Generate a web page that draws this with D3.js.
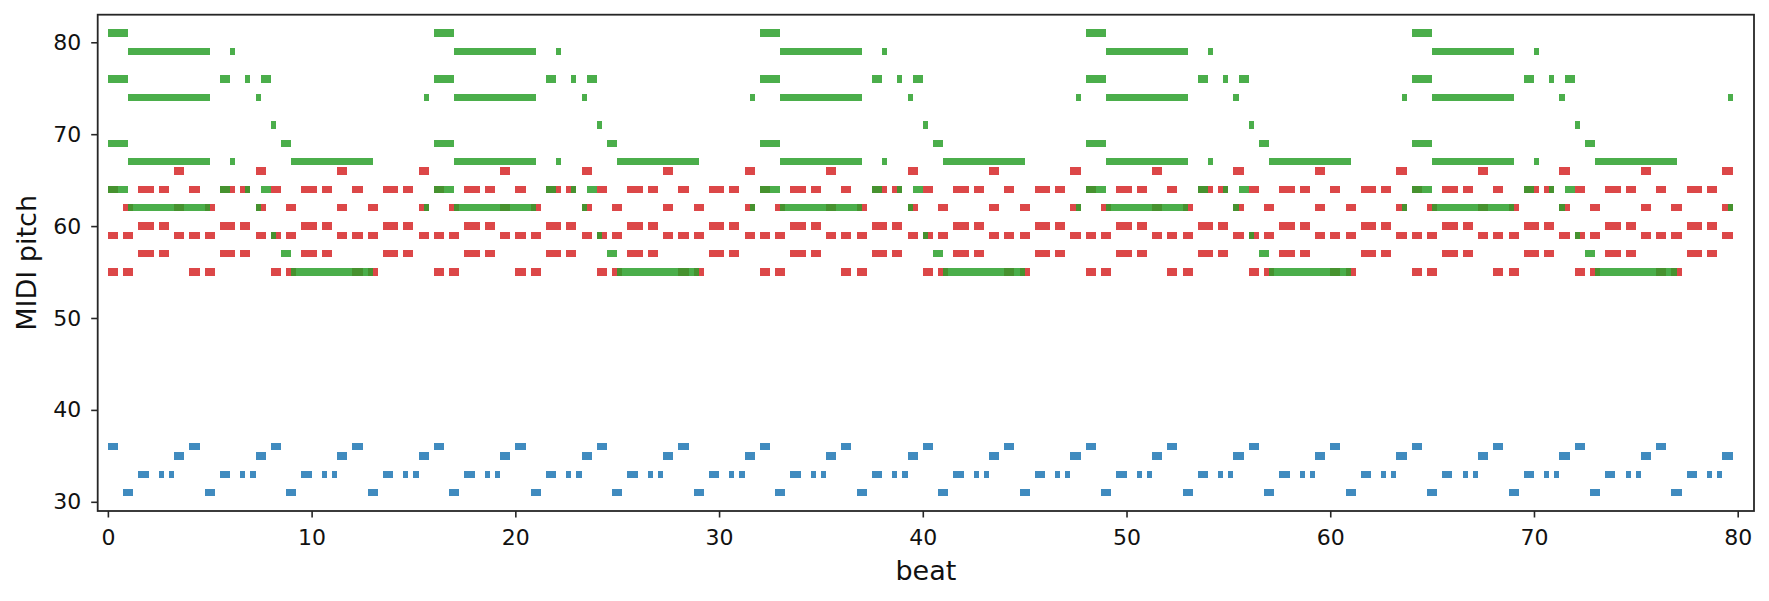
<!DOCTYPE html>
<html>
<head>
<meta charset="utf-8">
<script src="https://cdn.jsdelivr.net/npm/d3@7"></script>
<style>
  body { margin: 0; background: #fff; }
  svg { display: block; font-family: "DejaVu Sans", sans-serif; }
</style>
</head>
<body>
<svg width="1769" height="601"></svg>
<script>
// accompaniment (red): one 4-beat bar of chords, played in every bar
const accOnset = [0, 0.75, 1.5, 2.5, 3.25];
const accDur = [0.5, 0.5, 0.75, 0.5, 0.5];
const accChords = [[64, 59, 55], [62, 59, 55], [64, 60, 57], [64, 60, 57], [66, 62, 59]];

// bass (blue): one 4-beat bar
const bassOnset = [0, 0.75, 1.5, 2.5, 3, 3.25];
const bassDur = [0.5, 0.5, 0.5, 0.25, 0.25, 0.5];
const bassPitch = [36, 31, 33, 33, 33, 35];

// melody chords (green): one 16-beat phrase
const melOnset = [0, 1, 5.5, 6, 6.75, 7.25, 7.5, 8, 8.5, 9, 15.5];
const melDur = [1, 4, 0.5, 0.25, 0.25, 0.25, 0.5, 0.25, 0.5, 4, 0.25];
const melChords = [[81, 76, 69, 64], [79, 74, 67, 62], [76, 64], [79, 67], [76, 64],
  [74, 62], [76, 64], [71, 59], [69, 57], [67, 55], [74, 62]];

const barStarts = [0, 4, 8, 12, 16, 20, 24, 28, 32, 36, 40, 44, 48, 52, 56, 60, 64, 68, 72, 76];
const phraseStarts = [0, 16, 32, 48, 64];

const xTicks = [0, 10, 20, 30, 40, 50, 60, 70, 80];
const yTicks = [30, 40, 50, 60, 70, 80];

const svg = d3.select('svg');
const plotLeft = 97.7, plotRight = 1754, plotTop = 14.7, plotBottom = 511;

const x = d3.scaleLinear().domain([-0.5, 80.8]).range([plotLeft, plotRight]);
const y = d3.scaleLinear().domain([29, 83]).range([plotBottom, plotTop]);

const acc = [];
barStarts.forEach((b) => accOnset.forEach((o, i) => accChords[i].forEach((p) => {
  acc.push({ start: b + o, dur: accDur[i], pitch: p });
})));
const bass = [];
barStarts.forEach((b) => bassOnset.forEach((o, i) => {
  bass.push({ start: b + o, dur: bassDur[i], pitch: bassPitch[i] });
}));
const mel = [];
phraseStarts.forEach((s) => melOnset.forEach((o, i) => melChords[i].forEach((p) => {
  mel.push({ start: s + o, dur: melDur[i], pitch: p });
})));

function drawNotes(data, color) {
  svg.append('g')
    .selectAll('rect')
    .data(data)
    .join('rect')
    .attr('x', (d) => x(d.start))
    .attr('width', (d) => x(d.start + d.dur) - x(d.start))
    .attr('y', (d) => y(d.pitch + 0.4))
    .attr('height', (d) => y(d.pitch - 0.4) - y(d.pitch + 0.4))
    .attr('fill', color)
    .attr('fill-opacity', 0.85)
    .attr('shape-rendering', 'crispEdges');
}

drawNotes(acc, '#d62728');
drawNotes(mel, '#2ca02c');
drawNotes(bass, '#1f77b4');

// axes
const xAxis = svg.append('g')
  .attr('transform', `translate(0,${plotBottom})`)
  .call(d3.axisBottom(x).tickValues(xTicks).tickSize(6.5).tickFormat(d3.format('d')));
xAxis.select('.domain').remove();
xAxis.selectAll('line').attr('stroke', '#262626').attr('stroke-width', 1.6);
xAxis.selectAll('text')
  .attr('y', 34)
  .attr('dy', null)
  .attr('fill', '#111')
  .style('font-size', '22px');

const yAxis = svg.append('g')
  .attr('transform', `translate(${plotLeft},0)`)
  .call(d3.axisLeft(y).tickValues(yTicks).tickSize(6.5).tickPadding(10).tickFormat(d3.format('d')));
yAxis.select('.domain').remove();
yAxis.selectAll('line').attr('stroke', '#262626').attr('stroke-width', 1.6);
yAxis.selectAll('text')
  .attr('fill', '#111')
  .style('font-size', '22px');

svg.selectAll('.tick text').style('font-family', '"DejaVu Sans", sans-serif');

// frame
svg.append('rect')
  .attr('x', plotLeft)
  .attr('y', plotTop)
  .attr('width', plotRight - plotLeft)
  .attr('height', plotBottom - plotTop)
  .attr('fill', 'none')
  .attr('stroke', '#262626')
  .attr('stroke-width', 1.8);

svg.append('text')
  .attr('x', (plotLeft + plotRight) / 2)
  .attr('y', 580)
  .attr('text-anchor', 'middle')
  .style('font-size', '27px')
  .attr('fill', '#111')
  .text('beat');

svg.append('text')
  .attr('transform', `translate(36,${(plotTop + plotBottom) / 2}) rotate(-90)`)
  .attr('text-anchor', 'middle')
  .style('font-size', '27px')
  .attr('fill', '#111')
  .text('MIDI pitch');
</script>
</body>
</html>
